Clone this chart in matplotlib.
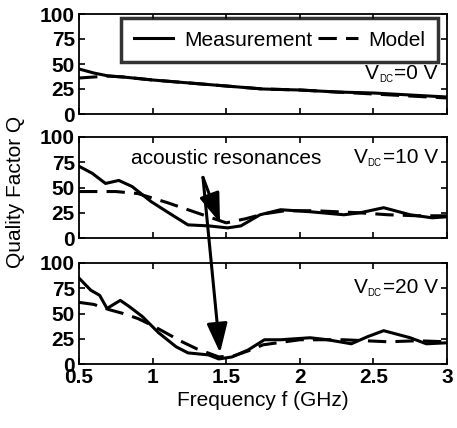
import matplotlib
matplotlib.use('Agg')
import matplotlib.pyplot as plt
from matplotlib.patches import ConnectionPatch
from matplotlib.transforms import IdentityTransform

plt.rcParams['font.family'] = ['Liberation Sans', 'DejaVu Sans']

# V_DC = 0 V
f0_meas = [0.5, 0.6, 0.7, 0.8, 1.0, 1.25, 1.5, 1.75, 2.0, 2.25, 2.5, 2.75, 3.0]
q0_meas = [45, 41, 38, 37, 34, 31, 28, 25, 24, 22, 21, 19, 17]
f0_model = [0.5, 0.6, 0.7, 0.8, 1.0, 1.25, 1.5, 1.75, 2.0, 2.25, 2.5, 2.75, 3.0]
q0_model = [36, 37, 38, 37, 34, 31, 28, 25, 24, 22, 20, 18, 16]

# V_DC = 10 V
f10_meas = [0.5, 0.59, 0.68, 0.77, 0.86, 0.99, 1.13, 1.24, 1.38, 1.51, 1.6, 1.73,
            1.87, 2.07, 2.3, 2.41, 2.57, 2.75, 2.9, 3.0]
q10_meas = [71, 64, 54, 57, 51, 36, 23, 13, 12, 10, 12, 23, 28, 26, 23, 25, 30, 23, 20, 21]
f10_model = [0.5, 0.75, 0.9, 1.1, 1.3, 1.5, 1.63, 1.76, 1.9, 2.1, 2.4, 2.6, 2.8, 3.0]
q10_model = [46, 46, 44, 35, 25, 15, 19, 24, 27, 27, 25, 23, 22, 22]

# V_DC = 20 V
f20_meas = [0.5, 0.58, 0.64, 0.69, 0.78, 0.84, 0.93, 1.04, 1.16, 1.24, 1.38, 1.45, 1.54,
            1.65, 1.76, 1.87, 2.07, 2.19, 2.35, 2.46, 2.57, 2.75, 2.86, 3.0]
q20_meas = [85, 73, 68, 55, 63, 57, 47, 31, 17, 11, 9, 5, 7, 14, 24, 24, 26, 24, 20, 27,
            33, 26, 20, 21]
f20_model = [0.5, 0.6, 0.7, 0.8, 0.9, 1.0, 1.1, 1.2, 1.3, 1.45, 1.55, 1.65, 1.75, 2.0,
             2.3, 2.6, 2.8, 3.0]
q20_model = [61, 59, 54, 50, 45, 38, 30, 22, 15, 7, 8, 13, 19, 24, 24, 22, 23, 22]

panels = [
    (f0_meas, q0_meas, f0_model, q0_model, '0'),
    (f10_meas, q10_meas, f10_model, q10_model, '10'),
    (f20_meas, q20_meas, f20_model, q20_model, '20'),
]

fig = plt.figure(figsize=(4.57, 4.28), dpi=100)
boxes = [
    (0.173, 1 - 114 / 428, 0.805, 100 / 428),
    (0.173, 1 - 238 / 428, 0.805, 101 / 428),
    (0.173, 1 - 364 / 428, 0.805, 101 / 428),
]
axes = []
vdc_texts = []
for i, (fm, qm, fmod, qmod, vdc) in enumerate(panels):
    ax = fig.add_axes(boxes[i])
    ax.plot(fm, qm, color='k', lw=2.2, label='Measurement')
    ax.plot(fmod, qmod, color='k', lw=2.2, dashes=(6, 3), label='Model')
    ax.set_xlim(0.5, 3)
    ax.set_ylim(0, 100)
    ax.set_yticks([0, 25, 50, 75, 100])
    ax.set_xticks([0.5, 1, 1.5, 2, 2.5, 3])
    ax.tick_params(direction='in', top=True, right=True, length=4, width=1.2,
                   labelsize=15, pad=3)
    for lab in ax.get_xticklabels() + ax.get_yticklabels():
        lab.set_fontweight('bold')
    if i < 2:
        ax.set_xticklabels([])
    else:
        ax.set_xticklabels(['0.5', '1', '1.5', '2', '2.5', '3'])
    for s in ax.spines.values():
        s.set_linewidth(1.3)
    # V_DC label, main part right-aligned; "V" and small "DC" placed after drawing
    ypos = [0.35, 0.74, 0.70][i]
    t = ax.text(0.975, ypos, '=' + vdc + ' V', transform=ax.transAxes,
                ha='right', va='baseline', fontsize=15)
    vdc_texts.append((ax, t, ypos))
    axes.append(ax)

leg = axes[0].legend(loc='upper right', bbox_to_anchor=(0.975, 0.96), borderaxespad=0,
                     ncol=2, fontsize=15, frameon=True, fancybox=False, handlelength=1.9,
                     columnspacing=0.3, handletextpad=0.5, borderpad=0.6)
leg.get_frame().set_edgecolor('k')
leg.get_frame().set_linewidth(2.5)

axes[1].text(1.5, 79, 'acoustic resonances', ha='center', va='center', fontsize=15)

for ax_tip, tip in [(axes[1], (1.458, 15)), (axes[2], (1.458, 11))]:
    arr = ConnectionPatch(xyA=(1.342, 60), coordsA=axes[1].transData,
                          xyB=tip, coordsB=ax_tip.transData,
                          arrowstyle='-|>,head_length=1.0,head_width=0.35',
                          mutation_scale=18, lw=2.2, color='k',
                          shrinkA=0, shrinkB=0)
    fig.add_artist(arr)

axes[2].set_xlabel('Frequency f (GHz)', fontsize=15, labelpad=3)
fig.text(0.035, 1 - 192 / 428, 'Quality Factor Q', rotation=90, ha='center',
         va='center', fontsize=15)

# place the small "DC" subscript and the "V" in front of each V_DC label
fig.canvas.draw()
renderer = fig.canvas.get_renderer()
for ax, t, ypos in vdc_texts:
    bb = t.get_window_extent(renderer)
    base_y = ax.transAxes.transform((0.975, ypos))[1]
    sub = fig.text(bb.x0 - 1, base_y - 3, 'DC', fontsize=7, ha='right', va='baseline',
                   transform=IdentityTransform())
    sbb = sub.get_window_extent(renderer)
    fig.text(sbb.x0, base_y, 'V', fontsize=15, ha='right', va='baseline',
             transform=IdentityTransform())

fig.savefig('out.png', dpi=100)
